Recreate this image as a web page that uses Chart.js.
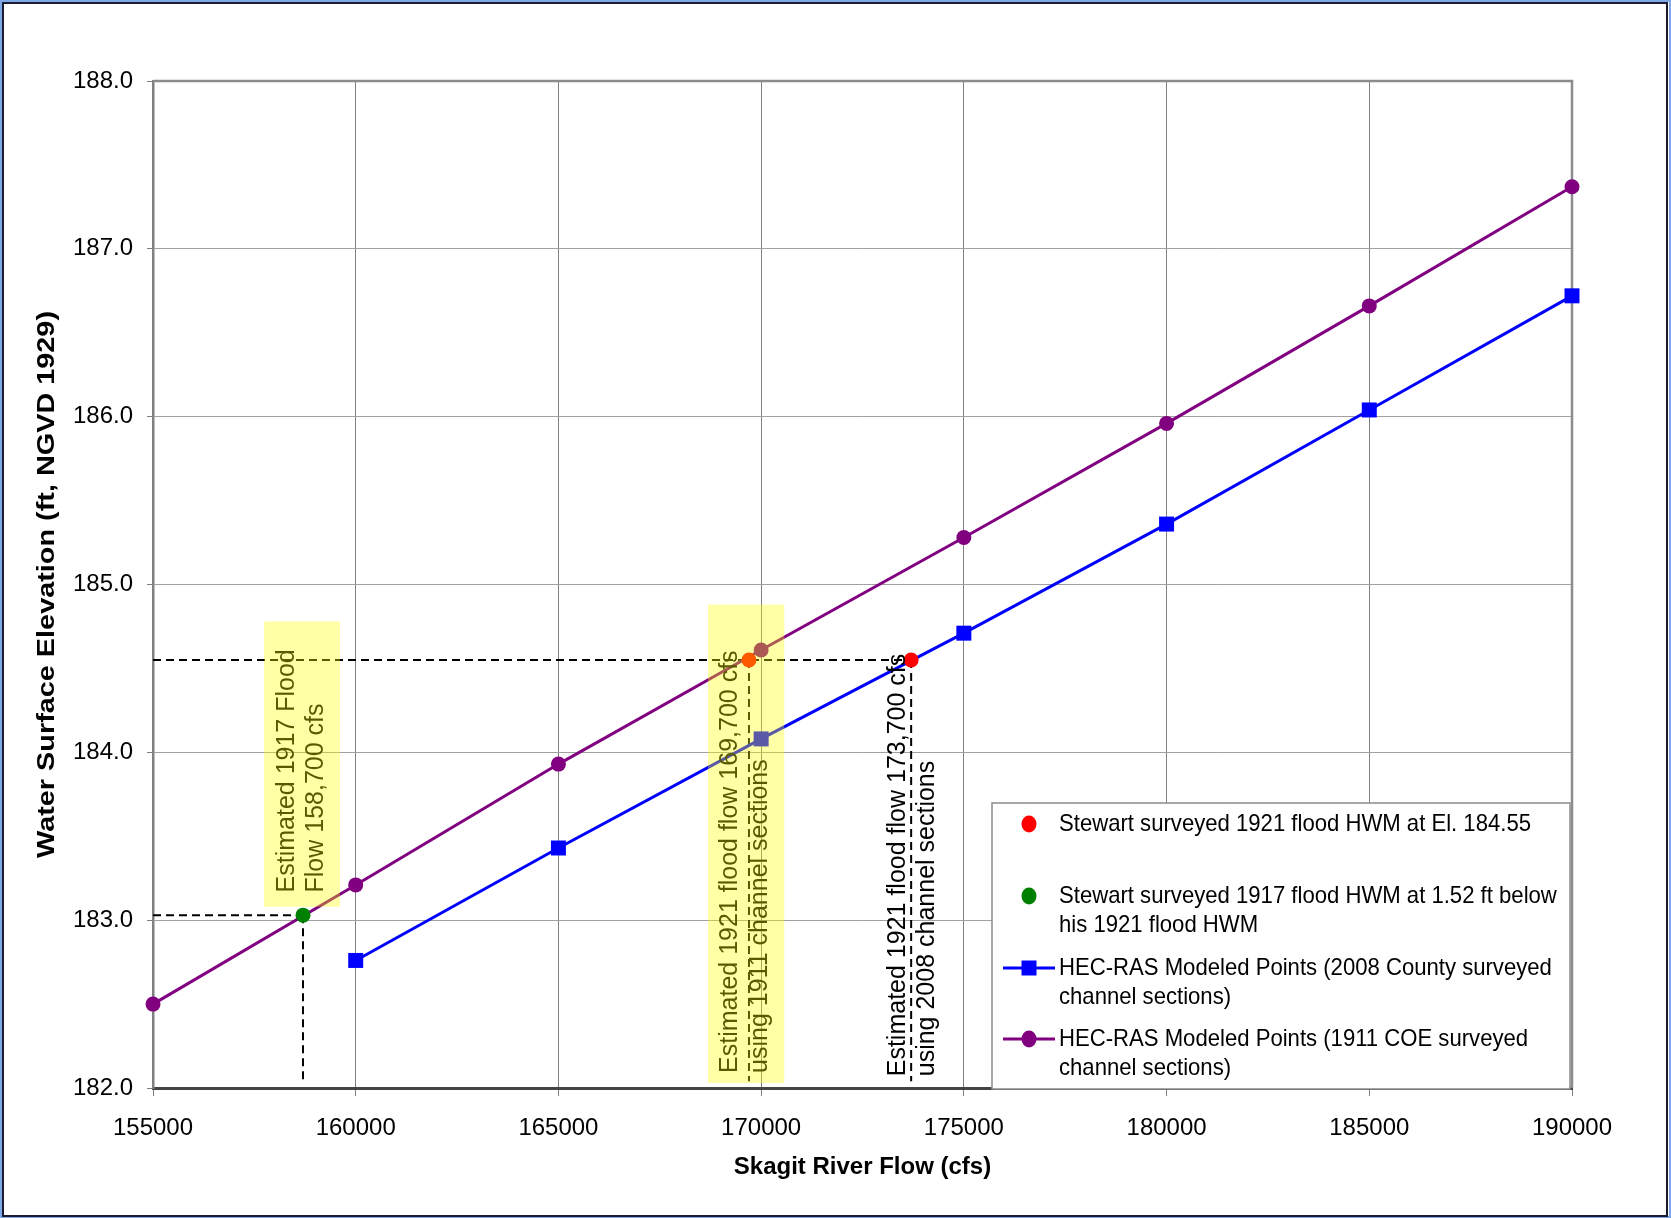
<!DOCTYPE html>
<html>
<head>
<meta charset="utf-8">
<script src="https://cdn.jsdelivr.net/npm/chart.js@4.4.1/dist/chart.umd.min.js"></script>
<style>
  html, body { margin: 0; padding: 0; background: #ffffff; }
  #wrap { width: 1671px; height: 1218px; }
</style>
</head>
<body>
<div id="wrap"><canvas id="c" width="1671" height="1218"></canvas></div>
<script>
// ---------------- DATA ----------------
const flows1911 = [155000, 160000, 165000, 170000, 175000, 180000, 185000, 190000];
const wse1911   = [182.50, 183.21, 183.93, 184.61, 185.28, 185.96, 186.66, 187.37];

const flows2008 = [160000, 165000, 170000, 175000, 180000, 185000, 190000];
const wse2008   = [182.76, 183.43, 184.08, 184.71, 185.36, 186.04, 186.72];

const hwm1921Flows = [169700, 173700];
const hwm1921Elev  = [184.55, 184.55];

const hwm1917Flows = [158700];
const hwm1917Elev  = [183.03];

const seriesLabels = [
  'Stewart surveyed 1921 flood HWM at El. 184.55',
  'Stewart surveyed 1917 flood HWM at 1.52 ft below his 1921 flood HWM',
  'HEC-RAS Modeled Points (2008 County surveyed channel sections)',
  'HEC-RAS Modeled Points (1911 COE surveyed channel sections)'
];
const legendLines = [
  ['Stewart surveyed 1921 flood HWM at El. 184.55'],
  ['Stewart surveyed 1917 flood HWM at 1.52 ft below', 'his 1921 flood HWM'],
  ['HEC-RAS Modeled Points (2008 County surveyed', 'channel sections)'],
  ['HEC-RAS Modeled Points (1911 COE surveyed', 'channel sections)']
];

const xTitle = 'Skagit River Flow (cfs)';
const yTitle = 'Water Surface Elevation (ft, NGVD 1929)';

// Annotation guides (data units)
const guideLines = [
  [[155000, 184.55], [173700, 184.55]],
  [[169700, 184.55], [169700, 182.04]],
  [[173700, 184.55], [173700, 182.04]],
  [[155000, 183.03], [158700, 183.03]],
  [[158700, 183.03], [158700, 182.04]]
];
const highlightBoxes = [
  [157740, 159610, 183.08, 184.78],
  [168690, 170570, 182.03, 184.88]
];
const notes = [
  { at: [158300, 183.165], lines: ['Estimated 1917 Flood', 'Flow 158,700 cfs'] },
  { at: [169235, 182.09], lines: ['Estimated 1921 flood flow 169,700 cfs', 'using 1911 channel sections'] },
  { at: [173375, 182.07], lines: ['Estimated 1921 flood flow 173,700 cfs', 'using 2008 channel sections'] }
];

// ---------------- STYLE ----------------
const FONT = '"Liberation Sans", Arial, Helvetica, sans-serif';
const C_RED = '#ff0000', C_GREEN = '#008000', C_BLUE = '#0000ff', C_PURPLE = '#800080';

const toXY = (xs, ys) => xs.map((x, i) => ({ x: x, y: ys[i] }));

const decorPlugin = {
  id: 'decor',
  beforeDraw(chart) {
    const ctx = chart.ctx;
    ctx.save();
    ctx.fillStyle = '#ffffff';
    ctx.fillRect(0, 0, chart.width, chart.height);
    ctx.restore();
  },
  beforeDatasetsDraw(chart) {
    const ctx = chart.ctx, xs = chart.scales.x, ys = chart.scales.y, a = chart.chartArea;
    ctx.save();
    ctx.strokeStyle = '#8c8c8c';
    ctx.lineWidth = 2.5;
    ctx.beginPath();
    ctx.moveTo(a.left, a.top);
    ctx.lineTo(a.right, a.top);
    ctx.lineTo(a.right, a.bottom);
    ctx.stroke();
    ctx.strokeStyle = '#000000';
    ctx.lineWidth = 2;
    ctx.setLineDash([8, 5]);
    guideLines.forEach(g => {
      ctx.beginPath();
      ctx.moveTo(xs.getPixelForValue(g[0][0]), ys.getPixelForValue(g[0][1]));
      ctx.lineTo(xs.getPixelForValue(g[1][0]), ys.getPixelForValue(g[1][1]));
      ctx.stroke();
    });
    ctx.restore();
  },
  afterDatasetsDraw(chart) {
    const ctx = chart.ctx, xs = chart.scales.x, ys = chart.scales.y;
    ctx.save();
    ctx.fillStyle = '#000000';
    ctx.font = '25px ' + FONT;
    ctx.textAlign = 'left';
    ctx.textBaseline = 'middle';
    notes.forEach(n => {
      ctx.save();
      ctx.translate(xs.getPixelForValue(n.at[0]), ys.getPixelForValue(n.at[1]));
      ctx.rotate(-Math.PI / 2);
      n.lines.forEach((t, i) => ctx.fillText(t, 0, i * 29.5));
      ctx.restore();
    });

    // legend
    const L = { left: 992, top: 803, right: 1570, bottom: 1089 };
    ctx.fillStyle = '#ffffff';
    ctx.fillRect(L.left, L.top, L.right - L.left, L.bottom - L.top);
    ctx.strokeStyle = '#8a8a8a';
    ctx.lineWidth = 1.5;
    ctx.strokeRect(L.left, L.top, L.right - L.left, L.bottom - L.top);
    const rowY = [21, 93, 165, 236];
    const mx = 1029, tx = 1059, lh = 29.5;
    ctx.font = '24px ' + FONT;
    const sx = 472 / ctx.measureText(legendLines[0][0]).width;
    const ds = chart.data.datasets;
    ds.forEach((d, i) => {
      const y = L.top + rowY[i];
      if (d.showLine) {
        ctx.strokeStyle = d.borderColor;
        ctx.lineWidth = 3;
        ctx.beginPath();
        ctx.moveTo(1003, y);
        ctx.lineTo(1055, y);
        ctx.stroke();
      }
      ctx.fillStyle = d.pointBackgroundColor;
      if (d.pointStyle === 'rect') {
        ctx.fillRect(mx - 7.5, y - 7.5, 15, 15);
      } else {
        ctx.beginPath();
        ctx.ellipse(mx, y, 7.5, 8.5, 0, 0, Math.PI * 2);
        ctx.fill();
      }
      ctx.fillStyle = '#000000';
      ctx.textAlign = 'left';
      ctx.textBaseline = 'middle';
      legendLines[i].forEach((t, k) => {
        ctx.save();
        ctx.translate(tx, y + k * lh);
        ctx.scale(sx, 1);
        ctx.fillText(t, 0, 0);
        ctx.restore();
      });
    });

    ctx.fillStyle = 'rgba(255,255,0,0.35)';
    highlightBoxes.forEach(b => {
      const x1 = xs.getPixelForValue(b[0]), x2 = xs.getPixelForValue(b[1]);
      const y1 = ys.getPixelForValue(b[3]), y2 = ys.getPixelForValue(b[2]);
      ctx.fillRect(x1, y1, x2 - x1, y2 - y1);
    });
    ctx.restore();
  },
  afterDraw(chart) {
    const ctx = chart.ctx, a = chart.chartArea;
    ctx.save();
    ctx.fillStyle = '#000000';
    ctx.font = 'bold 24px ' + FONT;
    ctx.textAlign = 'center';
    ctx.textBaseline = 'middle';
    ctx.fillText(xTitle, (a.left + a.right) / 2, 1167);
    const w = ctx.measureText(yTitle).width;
    ctx.save();
    ctx.translate(47.5, (a.top + a.bottom) / 2);
    ctx.rotate(-Math.PI / 2);
    ctx.scale(547 / w, 1);
    ctx.fillText(yTitle, 0, 0);
    ctx.restore();
    ctx.strokeStyle = '#7fa8ea';
    ctx.lineWidth = 4;
    ctx.strokeRect(0, 0, chart.width, chart.height);
    ctx.strokeStyle = '#1c1c30';
    ctx.lineWidth = 2;
    ctx.strokeRect(3, 3, 1664, 1213);
    ctx.restore();
  }
};

new Chart(document.getElementById('c'), {
  type: 'scatter',
  data: {
    datasets: [
      {
        label: seriesLabels[0],
        data: toXY(hwm1921Flows, hwm1921Elev),
        showLine: false,
        clip: false,
        pointStyle: 'circle',
        pointRadius: 7.5,
        pointBorderWidth: 0,
        pointBackgroundColor: C_RED,
        backgroundColor: C_RED,
        borderColor: C_RED
      },
      {
        label: seriesLabels[1],
        data: toXY(hwm1917Flows, hwm1917Elev),
        showLine: false,
        clip: false,
        pointStyle: 'circle',
        pointRadius: 7.5,
        pointBorderWidth: 0,
        pointBackgroundColor: C_GREEN,
        backgroundColor: C_GREEN,
        borderColor: C_GREEN
      },
      {
        label: seriesLabels[2],
        data: toXY(flows2008, wse2008),
        showLine: true,
        clip: false,
        borderColor: C_BLUE,
        borderWidth: 3,
        pointStyle: 'rect',
        pointRadius: 10.6,
        pointBorderWidth: 0,
        pointBackgroundColor: C_BLUE,
        backgroundColor: C_BLUE
      },
      {
        label: seriesLabels[3],
        data: toXY(flows1911, wse1911),
        showLine: true,
        clip: false,
        borderColor: C_PURPLE,
        borderWidth: 3,
        pointStyle: 'circle',
        pointRadius: 7.5,
        pointBorderWidth: 0,
        pointBackgroundColor: C_PURPLE,
        backgroundColor: C_PURPLE
      }
    ]
  },
  options: {
    responsive: false,
    animation: false,
    devicePixelRatio: 1,
    layout: { padding: { left: 0, top: 81, right: 99, bottom: 0 } },
    plugins: {
      legend: { display: false },
      tooltip: { enabled: false },
      title: { display: false }
    },
    scales: {
      x: {
        type: 'linear',
        min: 155000,
        max: 190000,
        afterFit(s) { s.height = 130; },
        ticks: {
          stepSize: 5000,
          color: '#000000',
          padding: 18,
          maxRotation: 0,
          font: { family: FONT, size: 24 },
          callback: v => String(v)
        },
        grid: { color: '#808080', lineWidth: 1, tickLength: 8, tickColor: '#808080' },
        border: { display: true, color: '#444444', width: 3 },
        title: { display: false }
      },
      y: {
        type: 'linear',
        min: 182,
        max: 188,
        afterFit(s) { s.width = 153; },
        ticks: {
          stepSize: 1,
          color: '#000000',
          padding: 14,
          font: { family: FONT, size: 24 },
          callback: v => Number(v).toFixed(1)
        },
        grid: { color: '#a0a0a0', lineWidth: 1, tickLength: 6, tickColor: '#808080' },
        border: { display: true, color: '#808080', width: 2.5 },
        title: { display: false }
      }
    }
  },
  plugins: [decorPlugin]
});
</script>
</body>
</html>
